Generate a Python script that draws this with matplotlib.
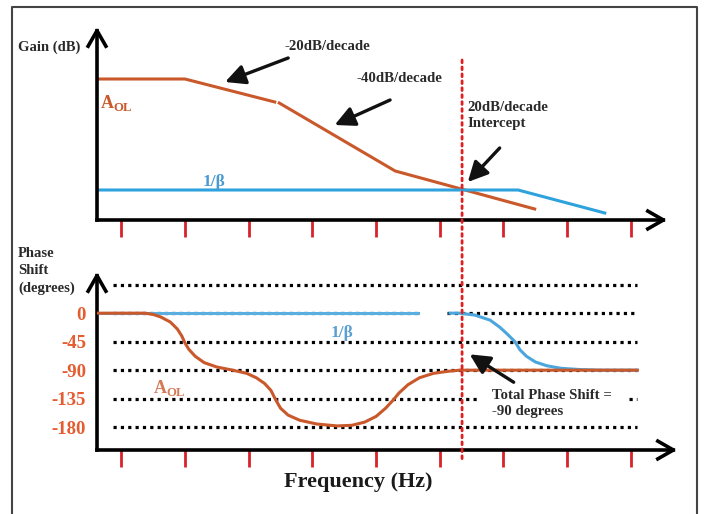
import matplotlib
matplotlib.use("Agg")
import matplotlib.pyplot as plt
from matplotlib.patches import ConnectionPatch
from matplotlib.lines import Line2D

plt.rcParams["font.family"] = ["Liberation Serif", "DejaVu Serif"]
plt.rcParams["font.weight"] = "bold"
plt.rcParams["mathtext.fontset"] = "custom"
plt.rcParams["mathtext.rm"] = "Liberation Serif:bold"
plt.rcParams["mathtext.bf"] = "Liberation Serif:bold"

# frequency axis in decades, red ticks at each decade
decade_ticks = [1, 2, 3, 4, 5, 6, 7, 8, 9]

# gain (dB, arbitrary offset)
aol_gain_f1 = [0.62, 2.00, 3.41]
aol_gain_db1 = [141, 141, 118]
aol_gain_f2 = [3.48, 5.30, 7.49]
aol_gain_db2 = [117, 49, 11]
beta_gain_f = [0.62, 7.23, 8.59]
beta_gain_db = [30, 30, 7]

# phase (degrees)
phase_levels = [0, -45, -90, -135, -180]
phase_labels = ["0", "-45", "-90", "-135", "-180"]
grid_levels = [45, -45, -90, -180]

aol_phase_f = [0.62, 1.37, 1.50, 1.62, 1.77, 1.88, 1.95, 2.00, 2.06, 2.16, 2.30,
               2.50, 2.75, 2.97, 3.12, 3.25, 3.35, 3.42, 3.50, 3.62, 3.80, 4.07,
               4.39, 4.62, 4.82, 5.00, 5.15, 5.27, 5.36, 5.50, 5.68, 5.90, 6.11,
               6.31, 9.10]
aol_phase_deg = [0, 0, -2, -6, -14, -25, -36, -47, -57, -68, -78,
                 -85, -90, -95, -102, -111, -122, -136, -150, -161, -169, -175,
                 -178, -177, -172, -163, -150, -137, -126, -113, -102, -95, -92,
                 -90, -90]

beta_phase_f1 = [0.62, 5.66]
beta_phase_deg1 = [0, 0]
beta_phase_f2 = [6.16, 6.31, 6.55, 6.79, 6.94, 7.06, 7.18, 7.26, 7.36, 7.50, 7.68,
                 7.90, 8.20, 8.51, 9.10]
beta_phase_deg2 = [0, 0, -3, -11, -22, -33, -45, -58, -68, -77, -83,
                   -87, -89, -90, -90]

crossover = 6.35

orange = "#c9582b"
blue = "#2ea2dc"
tick_red = "#d8232a"
label_red = "#e45c30"
txt = "#2a2a2a"

fig = plt.figure(figsize=(7.04, 5.14), dpi=100)

# frame
fig.add_artist(Line2D([12/704, 12/704, 697/704, 697/704], [0, 1-7/514, 1-7/514, 0],
                      transform=fig.transFigure, color="#444444", lw=1.5))


def setup(ax):
    for s in ax.spines.values():
        s.set_visible(False)
    ax.set_xticks(decade_ticks)
    ax.tick_params(axis="x", direction="out", length=12, width=2, color=tick_red,
                   labelbottom=False)
    arrow = dict(arrowstyle="->,head_length=0.7,head_width=0.4", lw=2.6,
                 color="black", shrinkA=0, shrinkB=0, mutation_scale=16,
                 capstyle="projecting")
    ax.annotate("", xy=(0, 1), xytext=(0, 0), xycoords="axes fraction",
                arrowprops=arrow, annotation_clip=False)
    ax.annotate("", xy=(1, 0), xytext=(0, 0), xycoords="axes fraction",
                arrowprops=arrow, annotation_clip=False)


# ---------------- Gain panel
ax1 = fig.add_axes([97/704, 1-220/514, 570/704, 193/514])
ax1.set_xlim(0.619, 9.567)
ax1.set_ylim(0, 193)
setup(ax1)
ax1.set_yticks([])
ax1.plot(aol_gain_f1, aol_gain_db1, color=orange, lw=2.2)
ax1.plot(aol_gain_f2, aol_gain_db2, color=orange, lw=2.2)
ax1.plot(beta_gain_f, beta_gain_db, color=blue, lw=2.2)

ax1.text(0.66, 117, r"$\mathrm{A}_{\mathrm{OL}}$", color=orange, fontsize=13,
         ha="left", va="center")
ax1.text(2.28, 38, "1/β", color="#4a9ad0", fontsize=12.5, ha="left", va="center")

head = dict(arrowstyle="-|>,head_length=0.8,head_width=0.4", lw=2.4, color="#111111",
            shrinkA=0, shrinkB=0, mutation_scale=15)
ax1.text(3.57, 174, "-20dB/decade", color=txt, fontsize=10.7, ha="left", va="center")
ax1.annotate("", xy=(2.63, 138), xytext=(3.62, 162), arrowprops=head)
ax1.text(4.70, 142, "-40dB/decade", color=txt, fontsize=10.7, ha="left", va="center")
ax1.annotate("", xy=(4.35, 95), xytext=(5.22, 120), arrowprops=head)
ax1.text(6.44, 119, "20dB/decade\nIntercept", color=txt, fontsize=10.7, ha="left",
         va="top", linespacing=1.25)
ax1.annotate("", xy=(6.44, 38), xytext=(6.94, 72), arrowprops=head)

fig.text(18/704, 1-47/514, "Gain (dB)", color=txt, fontsize=10.5, ha="left", va="center")

# ---------------- Phase panel
ax2 = fig.add_axes([97/704, 1-450/514, 580/704, 178/514])
ax2.set_xlim(0.619, 9.724)
ax2.set_ylim(-216, 65)
setup(ax2)
ax2.set_yticks(phase_levels)
ax2.set_yticklabels(phase_labels)
ax2.tick_params(axis="y", length=0, pad=8, labelsize=13.5, labelcolor=label_red)

dots = dict(color="black", lw=2.3, linestyle=(0, (1, 1.3)), zorder=1)
for lev in grid_levels:
    ax2.plot([0.87, 9.10], [lev, lev], **dots)
ax2.plot([0.87, 5.66], [0, 0], **dots)
ax2.plot([6.11, 9.10], [0, 0], **dots)
ax2.plot([0.87, 6.63], [-135, -135], **dots)
ax2.plot([8.97, 9.10], [-135, -135], **dots)

ax2.plot(beta_phase_f1, beta_phase_deg1, color="#5aaee0", lw=2.2, zorder=2)
ax2.plot(beta_phase_f2, beta_phase_deg2, color="#4aa6dc", lw=2.2, zorder=2)
ax2.plot(aol_phase_f, aol_phase_deg, color=orange, lw=2.2, zorder=3)

ax2.text(4.28, -32, "1/β", color="#5a9fd0", fontsize=12.5, ha="left", va="center")
ax2.text(1.50, -118, r"$\mathrm{A}_{\mathrm{OL}}$", color="#d47a55", fontsize=13,
         ha="left", va="center")
ax2.text(6.82, -142, "Total Phase Shift =\n-90 degrees", color=txt, fontsize=10.7,
         ha="left", va="center", linespacing=1.3)
ax2.annotate("", xy=(6.47, -65), xytext=(7.16, -109), arrowprops=head)

fig.text(18/704, 1-247/514, "Phase\nShift\n(degrees)", color=txt, fontsize=10.5,
         ha="left", va="top", linespacing=1.4)
fig.text(358/704, 1-482/514, "Frequency (Hz)", color="#1a1a1a", fontsize=16,
         ha="center", va="center")

# red dotted crossover line across both panels
con = ConnectionPatch(xyA=(crossover, 160), coordsA=ax1.transData,
                      xyB=(crossover, -235), coordsB=ax2.transData,
                      color="#e02020", lw=2, linestyle=(0, (1, 1.5)), zorder=5)
fig.add_artist(con)

fig.savefig("out.png", dpi=100)
